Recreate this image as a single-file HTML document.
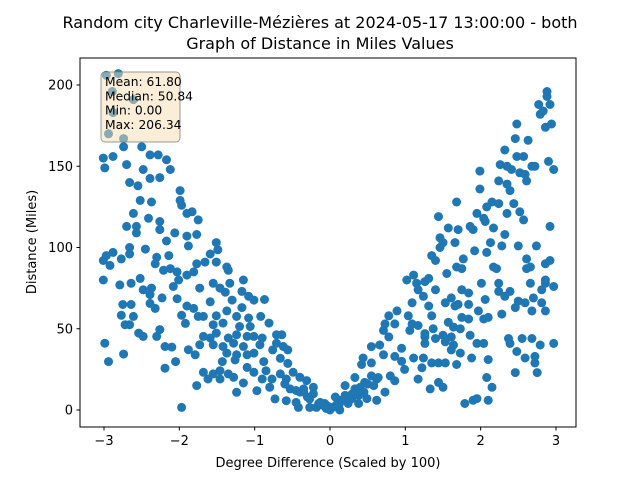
<!DOCTYPE html>
<html><head><meta charset="utf-8"><style>
body{margin:0;background:#fff}
svg text{font-family:"DejaVu Sans","Liberation Sans",sans-serif;fill:#000}
</style></head><body>
<svg id="chart" width="640" height="480" xmlns="http://www.w3.org/2000/svg">
<rect width="640" height="480" fill="#fff"/>
<text x="320" y="28" font-size="16" text-anchor="middle">Random city Charleville-Mézières at 2024-05-17 13:00:00  - both</text>
<text x="320" y="49" font-size="16" text-anchor="middle">Graph of Distance in Miles Values</text>
<g id="points"></g>
<g id="axes"></g>
<rect x="80" y="58" width="496" height="369" fill="none" stroke="#000" stroke-width="1"/>
<g>
<rect x="101" y="72" width="79" height="70" rx="4" fill="#f5deb3" fill-opacity="0.5" stroke="#808080" stroke-opacity="0.8"/>
<text x="105" y="86" font-size="12.3">Mean: 61.80</text>
<text x="105" y="100.3" font-size="12.3">Median: 50.84</text>
<text x="105" y="114.6" font-size="12.3">Min: 0.00</text>
<text x="105" y="128.9" font-size="12.3">Max: 206.34</text>
</g>
<text x="328" y="467" font-size="13" text-anchor="middle">Degree Difference (Scaled by 100)</text>
<text x="36" y="242" font-size="13" text-anchor="middle" transform="rotate(-90 36 242)">Distance (Miles)</text>
</svg>
<script>
const xTicks=[-3,-2,-1,0,1,2,3];
const yTicks=[0,50,100,150,200];
const xs=[-2.97,-2.81,-2.89,-2.61,-2.88,-2.94,-2.74,-2.74,-3.01,-2.88,-2.99,-2.50,-2.39,-2.28,-2.17,-2.70,-2.48,-2.12,-2.39,-2.26,-2.66,-2.55,-1.99,-1.99,-2.52,-2.37,-1.97,-1.83,-1.90,-1.75,-2.61,-2.41,-2.26,-2.70,-2.57,-2.57,-2.26,-2.06,-1.77,-1.90,-1.88,-2.17,-1.51,-1.49,-2.66,-2.45,-2.97,-2.88,-3.01,-2.92,-2.77,-2.66,-2.30,-2.14,-1.59,-1.77,-1.66,-1.51,-1.37,-1.35,-2.32,-2.21,-2.12,-2.03,-1.90,-1.81,-2.01,-2.52,-3.01,-2.79,-2.64,-2.48,-2.37,-2.08,-1.73,-1.55,-1.46,-1.33,-1.15,-1.17,-1.39,-2.39,-2.23,-2.03,-1.30,-1.08,-1.01,-0.87,-1.59,-2.75,-2.64,-2.39,-2.32,-1.90,-1.81,-1.97,-1.75,-1.17,-1.24,-1.51,-1.37,-1.08,-0.92,-0.81,-2.77,-2.61,-2.72,-2.66,-1.92,-1.68,-1.55,-1.42,-1.20,-1.06,-2.54,-2.48,-2.26,-2.30,-1.68,-1.59,-1.51,-1.35,-1.24,-1.10,-1.01,-0.90,-0.71,-0.64,-2.99,-2.19,-2.10,-1.73,-1.55,-1.42,-1.28,-1.15,-0.93,-0.71,-0.62,-1.88,-1.79,-2.74,-1.37,-1.24,-1.10,-1.01,-0.76,-0.56,-2.94,-2.05,-1.43,-1.26,-0.88,-0.66,-0.56,-2.19,-1.68,-1.55,-1.46,-1.35,-1.10,-1.01,-0.85,-0.66,-0.49,-0.40,-1.62,-1.46,-1.28,-0.90,-0.77,-0.58,-0.31,-1.77,-1.15,-0.97,-0.80,-0.53,-0.35,-0.22,-1.24,-0.73,-0.58,-0.45,-0.27,-0.13,-0.04,-0.42,-0.27,-0.18,-1.97,-0.40,-0.22,
2.88,2.88,2.77,2.92,2.83,2.79,2.86,2.94,2.48,2.46,2.63,2.32,2.48,2.57,2.26,2.35,2.41,2.72,2.68,2.90,2.97,2.52,2.59,2.61,1.99,1.99,2.24,2.35,2.39,1.68,2.15,2.24,2.08,2.44,1.95,2.35,2.52,2.04,2.06,2.57,1.44,1.86,1.90,2.17,2.32,2.92,1.57,1.70,1.46,1.50,1.66,2.13,2.28,2.50,2.74,1.46,1.92,2.08,1.35,1.40,1.77,2.61,2.86,2.92,2.61,2.66,2.17,2.21,1.68,1.75,1.55,1.11,1.02,1.15,1.26,1.31,1.17,1.40,1.24,1.75,1.84,2.01,2.24,2.24,2.39,2.66,2.86,2.86,2.97,2.81,2.06,2.32,2.70,1.61,1.53,1.66,1.70,1.84,1.09,1.31,2.50,2.59,2.46,2.81,2.86,2.68,2.28,1.97,0.89,0.78,1.04,1.35,1.75,1.84,2.04,2.10,0.73,0.86,1.09,1.17,1.57,1.64,1.73,0.71,1.06,1.26,1.37,0.78,1.26,1.40,1.50,1.61,1.86,2.37,2.55,2.68,2.97,0.55,0.66,1.26,1.53,1.64,1.95,2.04,2.39,2.79,0.95,1.61,1.73,0.44,0.71,0.86,0.95,1.11,1.24,1.88,2.10,2.48,2.59,2.72,2.72,1.35,1.44,1.53,1.68,0.42,0.55,0.99,1.22,2.46,2.75,0.33,0.55,0.64,0.80,0.46,0.62,0.86,1.17,2.08,0.20,0.33,0.73,1.33,1.44,1.50,2.15,0.07,0.20,0.38,0.49,0.62,1.79,1.90,1.95,2.10,-0.02,0.07,0.13,0.24,0.38,-0.07,0.15,0.29,
-0.10,-0.05,0.0,0.05,0.10,0.18,0.22,-0.15,0.30,0.35,0.12,-0.30,-0.35,0.40,0.50,0.27,-0.45,-0.60,0.45,0.58];
const ys=[206,207,196,191,183,170,167,162,155,156,149,162,157,157,154,151,148,148,142.5,143,140,138,135,129,129,128,126,122,121,117,121,118,116,113,113,109,111,109,108,107,101,104,103,98.6,100,99,95,97,92,89,93,96,94,95,96,90,91,91,88,86,90,86,87,85,83,85,80,81,80,77,78,74,75,76,75,78,75,78,80,73,72.5,71,69,68.5,67.6,70,67.6,68,66.6,64.9,64.9,65.6,62.5,64,62.5,58.3,57.6,63,57.6,58,61,56.6,57.6,53.5,58.3,57.6,52.5,52.5,53.3,57.6,52.5,53.5,51.4,51.4,47.3,45.3,49.5,45.3,45.3,44.3,47.3,44.3,46.3,45.3,45.3,44.3,46.3,46.3,41.1,39.1,38.7,40.1,40.1,39.1,41.1,39.1,40.1,41.1,39.1,37.1,34,34.4,35,34,34,35,37,37,29.8,29.8,29.8,30.8,29.8,31.8,28.7,25.7,23.2,22.2,24.2,22.2,26.2,23.2,24.2,22.2,23.2,20.1,19.1,19.1,20.1,19.1,19.1,19.1,18.1,15,16.6,11.9,14,13,13,14,10.9,6.8,5.7,4.7,6.8,4.7,2.6,1.6,1.6,1.6,1.6,11,10,
196,193,188,188,184,182,174,176,176,167,166,160,156,156,151,150,148,150,150,153,148,146,145,141,147,136,141,139,135,128,128,127,125,127,121,121,122,118,116,117,119,113,111,112,108,113,112,111,106,103,103,103,101,101,101,100,98,97,95,92,93,93,90,92,87,88,88,87,88,87,84,83,80,78,79,81,74,74,70,74,72,78,78,73,73,78,80,78,76,74,68,70,69,69,66,64,65,65,66,64,67,66,63,66,61,61,59,61,61,58,58,58,57,56,56,57,53,53,53,52,54,51,50,49,49,47,50,45,45,44,46,45,46,44,44,44,41,39,40,41,42,40,41,41,41,40,38,37,35,32,34,33,30,32,32,32,31,36,32,33,29,29,29,29,28,28,29,25,26,23,23,20,21,20,21,17,19,18,19,20,15,13,11,13,17,14,14,8,9,9,7,6,4,6,7,6,2,2,0,4,4,4,6,7,
3,1,0,2,4,6,8,4,10,12,3,8,11,14,16,9,12,16,11,15];
const NS='http://www.w3.org/2000/svg';
function xPos(v){return 330+v*75.33;}
function yPos(v){return 410-v*1.625;}
const pg=document.getElementById('points');
for(let i=0;i<xs.length;i++){
  const c=document.createElementNS(NS,'circle');
  c.setAttribute('cx',xPos(xs[i]).toFixed(1));
  c.setAttribute('cy',yPos(ys[i]).toFixed(1));
  c.setAttribute('r','4.5');
  c.setAttribute('fill','#1f77b4');
  
  
  pg.appendChild(c);
}
const ax=document.getElementById('axes');
xTicks.forEach(t=>{
  const x=xPos(t);
  const l=document.createElementNS(NS,'line');
  l.setAttribute('x1',x);l.setAttribute('x2',x);l.setAttribute('y1',427);l.setAttribute('y2',430.5);l.setAttribute('stroke','#000');
  
  
  ax.appendChild(l);
  const tx=document.createElementNS(NS,'text');
  tx.setAttribute('x',x);tx.setAttribute('y',445);tx.setAttribute('font-size','13');tx.setAttribute('text-anchor','middle');
  tx.textContent=t<0?'\u2212'+(-t):String(t);
  
  
  ax.appendChild(tx);
});
yTicks.forEach(t=>{
  const y=yPos(t);
  const l=document.createElementNS(NS,'line');
  l.setAttribute('x1',76.5);l.setAttribute('x2',80);l.setAttribute('y1',y);l.setAttribute('y2',y);l.setAttribute('stroke','#000');
  
  
  ax.appendChild(l);
  const tx=document.createElementNS(NS,'text');
  tx.setAttribute('x',73);tx.setAttribute('y',y+4.5);tx.setAttribute('font-size','13');tx.setAttribute('text-anchor','end');
  tx.textContent=String(t);
  
  
  ax.appendChild(tx);
});
</script>
</body></html>
